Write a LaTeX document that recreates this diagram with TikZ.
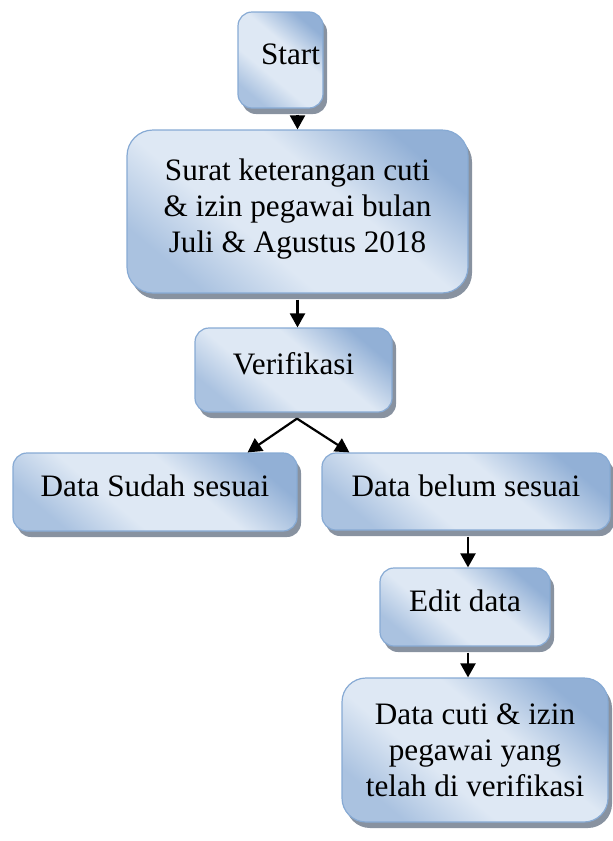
\documentclass[tikz,border=0pt]{standalone}
\usepackage{fontspec}
\setmainfont{Liberation Serif}
\usepackage{tikz}
\usetikzlibrary{arrows.meta,positioning,calc,shadows}
\usepackage{xcolor}
\definecolor{boxdark}{RGB}{146,176,214}
\definecolor{boxlight}{RGB}{222,232,244}
\definecolor{boxmid}{RGB}{170,194,224}
\definecolor{boxedge}{RGB}{135,170,212}
\definecolor{shadowgrey}{RGB}{136,146,160}
\newcommand{\boxfont}{\fontsize{15.6}{18}\selectfont}
% light band across the middle, darker towards two corners
\pgfdeclareverticalshading{boxshade}{100bp}{color(0bp)=(boxmid); color(25bp)=(boxmid);
  color(40bp)=(boxlight); color(58bp)=(boxlight); color(75bp)=(boxdark); color(100bp)=(boxdark)}

\begin{document}
\begin{tikzpicture}[
    x=0.5pt, y=-0.5pt,
    box/.style={draw=boxedge, line width=0.6pt, rounded corners=7pt,
                shading=boxshade, shading angle=-40, inner sep=0pt, align=center,
                text depth=6pt, font=\boxfont,
                drop shadow={shadow xshift=2pt, shadow yshift=-3pt,
                             fill=shadowgrey, opacity=1}},
    arr/.style={-{Triangle[length=7pt, width=7.5pt]}, line width=1.1pt, black}
]
    \useasboundingbox (0,0) rectangle (613,841);

    % main column
    \node[box, minimum width=42.5pt, minimum height=48pt,
          text width=39.5pt, align=right, inner xsep=1.5pt] (start) at (280.5,60) {Start};
    \node[box, rounded corners=13pt, minimum width=170.5pt, minimum height=81.5pt]
          (surat) at (297.5,211.5) {Surat keterangan cuti\\\& izin pegawai bulan\\Juli \& Agustus 2018};
    \node[box, minimum width=98.5pt, minimum height=42pt] (verif) at (293.5,370) {Verifikasi};

    % the two outcomes
    \node[box, minimum width=142pt, minimum height=39pt] (sudah) at (155,492) {Data Sudah sesuai};
    \node[box, minimum width=144pt, minimum height=38.5pt] (belum) at (466,491.5) {Data belum sesuai};
    \node[box, minimum width=85pt, minimum height=39pt] (edit) at (465,607) {Edit data};
    \node[box, rounded corners=12pt, minimum width=133pt, minimum height=72pt, text depth=-4pt]
          (hasil) at (475,750) {Data cuti \& izin\\pegawai yang\\telah di verifikasi};

    \coordinate (split) at ($(verif.south)+(3.5,6)$);

    \draw[arr, shorten <=3pt] (start.south -| surat.north) -- (surat.north);
    \draw[arr, shorten <=3pt] (surat.south) -- (surat.south |- verif.north);
    \draw[arr] (split) -- ($(sudah.north east)+(-50,0)$);
    \draw[arr] (split) -- ($(belum.north west)+(28,0)$);
    \draw[arr, shorten <=3pt] ($(belum.south)+(2,0)$) -- ($(belum.south |- edit.north)+(2,0)$);
    \draw[arr, shorten <=3pt] ($(edit.south)+(3,0)$) -- ($(edit.south |- hasil.north)+(3,0)$);
\end{tikzpicture}
\end{document}
